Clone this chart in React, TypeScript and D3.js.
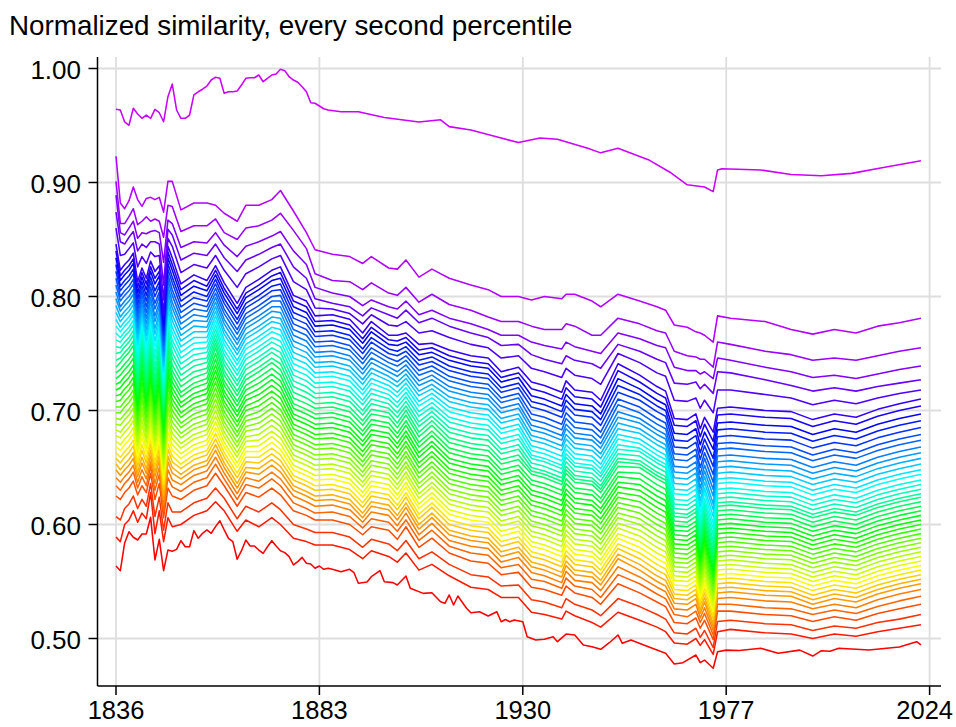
import React from "react";
import * as d3 from "d3";

const TITLE = "Normalized similarity, every second percentile";
const xTickYears = [1836, 1883, 1930, 1977, 2024];
const yTickValues = [0.5, 0.6, 0.7, 0.8, 0.9, 1.0];

// highest plotted percentile (p98)
const topYears = [
  ...d3.range(1836, 1886),
  1888, 1892, 1898, 1902, 1906, 1911, 1913, 1918, 1925, 1929, 1934, 1938, 1945, 1948,
  1952, 1959, 1964, 1968, 1972, 1974, 1975, 1976, 1985, 1992, 1999, 2006, 2013, 2022,
];
const topValues = [
  0.9642, 0.9636, 0.9531, 0.9502, 0.9651, 0.9601, 0.9563, 0.9592, 0.9563, 0.9642,
  0.9612, 0.9533, 0.9753, 0.9864, 0.9636, 0.9563, 0.9563, 0.9592, 0.9768, 0.9796,
  0.9818, 0.9846, 0.9899, 0.9923, 0.9914, 0.9782, 0.9796, 0.9796, 0.9803, 0.9855,
  0.9914, 0.9919, 0.9919, 0.9943, 0.9884, 0.9914, 0.9943, 0.9952, 0.9993, 0.9981,
  0.9928, 0.9899, 0.9879, 0.984, 0.9796, 0.97, 0.9695, 0.9671, 0.9647, 0.9636,
  0.962, 0.962, 0.957, 0.955, 0.953, 0.955, 0.949, 0.946, 0.939, 0.935, 0.939, 0.938, 0.93, 0.926,
  0.93, 0.92, 0.909, 0.898, 0.896, 0.892, 0.911, 0.912, 0.911, 0.907, 0.906, 0.908, 0.913, 0.919,
];

// lowest plotted percentile (p2)
const bottomYears = [
  ...d3.range(1836, 1886),
  1886, 1888, 1890, 1891, 1892, 1894, 1895, 1897, 1898, 1900, 1901, 1903, 1904, 1907, 1909,
  1911, 1912, 1913, 1914, 1915, 1917, 1918, 1920, 1922, 1924, 1925, 1926, 1927, 1928, 1930,
  1931, 1933, 1935, 1937, 1938, 1940, 1942, 1944, 1946, 1948, 1950, 1952, 1953, 1955, 1959,
  1963, 1965, 1967, 1970, 1971, 1972, 1974, 1975, 1977, 1980, 1985, 1989, 1994, 1997, 1999,
  2001, 2003, 2010, 2017, 2021, 2022,
];
const bottomValues = [
  0.5636, 0.5595, 0.5838, 0.5937, 0.5888, 0.5864, 0.5917, 0.5917, 0.6063, 0.5689,
  0.587, 0.5595, 0.5776, 0.5765, 0.5782, 0.5858, 0.5805, 0.5805, 0.5946, 0.5879,
  0.5923, 0.5952, 0.5923, 0.5981, 0.6033, 0.5952, 0.5879, 0.5849, 0.5695, 0.577,
  0.5864, 0.5811, 0.5811, 0.5776, 0.5747, 0.5805, 0.5858, 0.5811, 0.577, 0.5753,
  0.5718, 0.5645, 0.5674, 0.5712, 0.566, 0.5654, 0.5616, 0.5636, 0.5607, 0.5616,
  0.5607, 0.5586, 0.5607, 0.5577, 0.5484, 0.5496, 0.5542, 0.5595, 0.5498, 0.549,
  0.5469, 0.5548, 0.544, 0.5396, 0.5402, 0.5323, 0.5309, 0.5382, 0.5294, 0.5373,
  0.5265, 0.5226, 0.5235, 0.5197, 0.5235, 0.5147, 0.5167, 0.5147, 0.5162, 0.5147,
  0.5016, 0.4987, 0.4993, 0.5016, 0.4972, 0.5039, 0.5031, 0.4943, 0.4928, 0.4905,
  0.4963, 0.5031, 0.4958, 0.4987, 0.4928, 0.487, 0.4776, 0.4788, 0.4855, 0.4788,
  0.4811, 0.4739, 0.4884, 0.4898, 0.4895, 0.4914, 0.487, 0.4898, 0.4846, 0.4893,
  0.4888, 0.4914, 0.49, 0.4925, 0.4972, 0.4944,
];

// percentiles p4 ... p96 (thousandths), one row per year read
const knotYears = [
  1836, 1837, 1838, 1839, 1840, 1841, 1842, 1843, 1844, 1845, 1846, 1847, 1848, 1849,
  1851, 1854, 1857, 1859, 1861, 1864, 1866, 1869, 1872, 1874, 1877, 1880, 1882, 1886,
  1890, 1893, 1895, 1899, 1901, 1903, 1906, 1909, 1913, 1918, 1922, 1925, 1929,
  1932, 1935, 1939, 1940, 1942, 1946, 1948, 1952, 1957, 1961, 1963,
  1965, 1968, 1970, 1971, 1972, 1974, 1975,
  1978, 1986, 1992, 1997, 2002, 2007, 2012, 2017, 2022,
];
const middleRows = [
  [589,607,625,634,641,648,653,658,663,668,673,678,683,688,693,698,703,708,713,718,723,728,733,738,744,750,756,762,768,774,780,786,792,798,804,810,816,822,828,834,840,846,860,874,889,901,923],
  [585,604,622,630,637,643,648,654,659,665,670,676,681,687,692,698,703,709,714,720,725,731,736,742,746,751,755,760,764,769,773,778,782,787,791,796,800,805,809,814,818,823,836,848,856,864,882],
  [600,614,628,636,642,648,653,659,664,670,675,681,686,692,697,703,708,714,719,725,730,736,741,747,751,756,760,765,769,774,778,783,787,792,796,801,805,810,814,819,823,828,837,846,854,864,877],
  [604,618,632,640,646,652,657,663,668,674,679,685,690,696,701,707,712,718,723,729,734,740,745,751,755,760,764,769,773,778,782,787,791,796,800,805,809,814,818,823,827,832,842,852,860,870,884],
  [612,625,638,646,652,658,663,669,674,680,685,691,696,702,707,713,718,724,729,735,740,746,751,757,761,766,770,775,779,784,788,793,797,802,806,811,815,820,824,829,833,838,847,857,866,877,896],
  [602,614,626,632,637,642,646,651,655,660,664,669,673,678,682,687,691,696,700,705,709,714,718,723,728,733,738,743,748,753,758,763,768,773,778,783,788,793,798,803,808,813,826,840,851,863,885],
  [610,622,634,642,648,654,659,665,670,676,681,687,692,698,703,709,714,720,725,731,736,742,747,753,757,761,765,769,773,777,781,785,789,793,797,801,805,809,813,817,821,825,835,846,856,866,879],
  [605,616,628,634,640,645,649,654,658,663,667,672,676,681,685,690,694,699,703,708,712,717,721,726,731,736,741,746,751,756,761,766,771,776,781,786,791,796,801,806,811,816,829,843,855,870,886],
  [628,636,645,651,655,660,665,670,675,680,685,690,695,700,705,710,715,720,725,730,735,740,745,750,754,759,763,768,772,777,781,786,790,795,799,804,808,813,817,822,826,831,839,848,857,866,887],
  [592,607,622,630,636,642,646,651,655,660,664,669,673,678,682,687,691,696,700,705,709,714,718,723,728,734,739,745,750,756,761,767,772,778,783,789,794,800,805,811,816,822,835,848,858,868,885],
  [612,624,636,644,650,656,661,666,671,676,681,686,691,696,701,706,711,716,721,726,731,736,741,746,750,755,759,764,768,773,777,782,786,791,795,800,804,809,813,818,822,827,836,846,856,866,887],
  [585,595,606,612,617,622,626,631,635,640,644,649,653,658,662,667,671,676,680,685,689,694,698,703,707,712,716,721,725,730,734,739,743,748,752,757,761,766,770,775,779,784,797,810,830,852,874],
  [606,619,632,641,648,655,660,666,671,677,682,688,693,699,704,710,715,721,726,732,737,743,748,754,759,764,769,774,779,784,789,794,799,804,809,814,819,824,829,834,839,844,851,859,867,880,901],
  [598,611,625,633,639,645,650,655,660,665,670,675,680,685,690,695,700,705,710,715,720,725,730,735,740,746,751,757,762,768,773,779,784,790,795,801,806,812,817,823,828,834,844,854,864,879,901],
  [600,611,622,629,635,640,644,649,653,658,662,667,671,676,680,685,689,694,698,703,707,712,716,721,726,731,736,741,746,751,756,761,766,771,776,781,786,791,796,801,806,811,821,832,843,857,876],
  [608,619,630,637,643,648,652,657,661,666,670,675,679,684,688,693,697,702,706,711,715,720,724,729,734,739,744,749,754,759,764,769,774,779,784,789,794,799,804,809,814,819,828,838,848,862,882],
  [612,623,634,641,647,652,656,661,665,670,674,679,683,688,692,697,701,706,710,715,719,724,728,733,737,742,746,751,755,760,764,769,773,778,782,787,791,796,800,805,809,814,825,836,847,862,882],
  [620,632,645,653,659,665,670,675,680,685,690,695,700,705,710,715,720,725,730,735,740,745,750,755,759,763,767,771,775,779,783,787,791,795,799,803,807,811,815,819,823,827,836,846,856,868,880],
  [612,623,634,640,645,650,654,659,663,668,672,677,681,686,690,695,699,704,708,713,717,722,726,731,735,740,744,749,753,758,762,767,771,776,780,785,789,794,798,803,807,812,823,834,845,856,873],
  [594,605,616,622,627,632,636,641,645,650,654,659,663,668,672,677,681,686,690,695,699,704,708,713,717,722,726,731,735,740,744,749,753,758,762,767,771,776,780,785,789,794,808,822,835,850,866],
  [604,616,628,635,641,646,650,655,659,664,668,673,677,682,686,691,695,700,704,709,713,718,722,727,731,736,740,745,749,754,758,763,767,772,776,781,785,790,794,799,803,808,820,832,844,860,880],
  [598,611,624,632,638,644,649,654,659,664,669,674,679,684,689,694,699,704,709,714,719,724,729,734,738,743,747,752,756,761,765,770,774,779,783,788,792,797,801,806,810,815,826,837,848,862,880],
  [606,619,632,640,646,652,657,662,667,672,677,682,687,692,697,702,707,712,717,722,727,732,737,742,746,751,755,760,764,769,773,778,782,787,791,796,800,805,809,814,818,823,833,843,853,867,885],
  [600,613,626,634,640,646,651,656,661,666,671,676,681,686,691,696,701,706,711,716,721,726,731,736,741,746,751,756,761,766,771,776,781,786,791,796,801,806,811,816,821,826,836,846,857,873,893],
  [588,600,612,619,625,630,634,639,643,648,652,657,661,666,670,675,679,684,688,693,697,702,706,711,716,721,726,731,736,741,746,751,756,761,766,771,776,781,786,791,796,801,813,826,840,858,875],
  [585,596,608,614,620,625,629,634,638,643,647,652,656,661,665,670,674,679,683,688,692,697,701,706,711,716,721,726,731,736,741,746,751,756,761,766,771,776,781,786,791,796,806,816,828,842,856],
  [582,593,604,610,616,621,625,630,634,639,643,648,652,657,661,666,670,675,679,684,688,693,697,702,706,711,715,720,724,729,733,738,742,747,751,756,760,765,769,774,778,783,790,798,808,820,841],
  [582,593,604,611,617,622,626,631,635,640,644,649,653,658,662,667,671,676,680,685,689,694,698,703,707,712,716,721,725,730,734,739,743,748,752,757,761,766,770,775,779,784,789,794,803,814,837],
  [578,589,600,607,613,618,622,627,631,636,640,645,649,654,658,663,667,672,676,681,685,690,694,699,703,708,712,717,721,726,730,735,739,744,748,753,757,762,766,771,775,780,785,791,800,813,835],
  [570,580,591,597,602,606,610,615,619,624,628,633,637,642,646,651,655,660,664,669,673,678,682,687,691,696,700,705,709,714,718,723,727,732,736,741,745,750,754,759,763,768,776,783,792,806,829],
  [577,587,598,605,611,616,620,625,629,634,638,643,647,652,656,661,665,670,674,679,683,688,692,697,701,706,710,715,719,724,728,733,737,742,746,751,755,760,764,769,773,778,784,790,797,812,835],
  [572,583,595,602,608,613,617,622,626,631,635,640,644,649,653,658,662,667,671,676,680,685,689,694,698,702,706,710,714,718,722,726,730,734,738,742,746,750,754,758,762,766,775,784,791,803,825],
  [567,577,587,594,599,604,608,613,617,622,626,631,635,640,644,649,653,658,662,667,671,676,680,685,689,694,698,703,707,712,716,721,725,730,734,739,743,748,752,757,761,766,774,781,789,801,824],
  [575,586,598,604,610,615,619,624,628,633,637,642,646,651,655,660,664,669,673,678,682,687,691,696,700,704,708,712,716,720,724,728,732,736,740,744,748,752,756,760,764,768,778,788,796,808,832],
  [560,570,580,586,591,596,600,605,609,614,618,623,627,632,636,641,645,650,654,659,663,668,672,677,681,686,690,695,699,704,708,713,717,722,726,731,735,740,744,749,753,758,768,777,784,795,817],
  [565,576,588,595,601,606,610,615,619,624,628,633,637,642,646,651,655,660,664,669,673,678,682,687,691,695,699,703,707,711,715,719,723,727,731,735,739,743,747,751,755,759,770,781,788,802,824],
  [555,565,575,581,586,591,595,600,604,609,613,618,622,627,631,636,640,645,649,654,658,663,667,672,676,681,685,690,694,699,703,708,712,717,721,726,730,735,739,744,748,753,764,774,781,793,816],
  [545,556,568,575,581,586,590,595,599,604,608,613,617,622,626,631,635,640,644,649,653,658,662,667,671,676,680,685,689,694,698,703,707,712,716,721,725,730,734,739,743,748,758,768,776,788,810],
  [543,554,566,573,579,584,588,593,597,602,606,611,615,620,624,629,633,638,642,647,651,656,660,665,669,674,678,683,687,692,696,701,705,710,714,719,723,728,732,737,741,746,755,764,771,782,806],
  [536,546,556,562,567,572,576,581,585,590,594,599,603,608,612,617,621,626,630,635,639,644,648,653,657,662,666,671,675,680,684,689,693,698,702,707,711,716,720,725,729,734,746,757,766,778,800],
  [536,547,558,565,571,576,580,585,589,594,598,603,607,612,616,621,625,630,634,639,643,648,652,657,661,666,670,675,679,684,688,693,697,702,706,711,715,720,724,729,733,738,748,758,766,778,800],
  [523,534,545,552,558,563,567,572,576,581,585,590,594,599,603,608,612,617,621,626,630,635,639,644,647,650,654,658,661,665,669,674,678,683,687,692,697,703,708,713,719,725,737,749,760,774,797],
  [521,532,543,550,555,560,564,569,573,578,582,587,591,596,600,605,609,614,618,623,627,632,636,641,644,647,651,655,658,662,666,671,675,680,684,689,694,700,705,710,716,722,734,745,757,771,800],
  [517,527,538,544,549,554,558,563,567,572,576,581,585,590,594,599,603,608,612,617,621,626,630,635,638,641,645,649,652,656,660,665,669,674,678,683,688,694,699,704,710,716,729,741,754,771,798],
  [524,535,546,553,559,564,568,573,577,582,586,591,595,600,604,609,613,618,622,627,631,636,640,645,648,651,655,659,662,666,670,675,679,684,688,693,698,704,709,714,720,726,737,748,760,776,802],
  [520,530,540,546,551,556,560,565,569,574,578,583,587,592,596,601,605,610,614,619,623,628,632,637,640,643,647,651,654,658,662,667,671,676,680,685,690,696,701,706,712,718,731,744,756,774,802],
  [514,525,536,543,549,554,558,563,567,572,576,581,585,590,594,599,603,608,612,617,621,626,630,635,638,641,645,649,652,656,660,665,669,674,678,683,688,694,699,704,710,716,728,741,752,766,796],
  [510,520,530,536,542,547,551,556,560,565,569,574,578,583,587,592,596,601,605,610,614,619,623,628,631,634,638,642,645,649,653,658,662,667,671,676,681,687,692,697,703,709,723,737,750,766,791],
  [523,535,548,556,563,570,574,579,583,588,592,597,601,606,610,615,619,624,628,633,637,642,646,651,655,658,662,666,670,675,679,684,689,694,699,705,710,716,722,728,735,741,750,758,768,781,802],
  [516,528,540,548,554,560,565,570,575,580,585,590,595,600,605,610,615,620,625,630,635,640,645,650,653,656,660,664,667,671,675,680,684,689,693,698,703,709,714,719,725,731,742,752,763,776,796],
  [510,521,532,539,545,550,555,560,565,570,575,580,585,590,595,600,605,610,615,620,625,630,635,640,643,646,650,654,657,661,665,670,674,679,683,688,693,699,704,709,715,721,733,745,757,770,791],
  [506,517,528,535,541,546,551,556,561,566,571,576,581,586,591,596,601,606,611,616,621,626,631,636,639,642,646,650,653,657,661,666,670,675,679,684,689,695,700,705,711,717,730,742,755,768,788],
  [496,505,514,521,526,531,535,539,543,547,551,555,559,563,567,571,575,579,583,587,591,595,599,603,607,610,614,618,622,627,631,636,641,646,651,657,662,668,674,680,687,693,709,724,738,752,775],
  [495,504,513,519,525,530,534,538,542,546,550,554,558,562,566,570,574,578,582,586,590,594,598,602,606,609,613,617,621,626,630,635,640,645,650,656,661,667,673,679,686,692,708,723,735,748,773],
  [500,509,518,524,530,535,539,543,547,551,555,559,563,567,571,575,579,583,587,591,595,599,603,607,611,614,618,622,626,631,635,640,645,650,655,661,666,672,678,684,691,697,711,725,735,747,769],
  [494,501,509,514,518,522,525,529,532,536,539,543,546,550,553,557,560,564,567,571,574,578,581,585,589,593,597,602,606,611,616,621,627,632,638,644,650,657,663,670,677,684,702,719,732,745,768],
  [499,507,516,522,527,532,536,540,544,548,552,556,560,564,568,572,576,580,584,588,592,596,600,604,608,611,615,619,623,628,632,637,642,647,652,658,663,669,675,681,688,694,709,723,734,745,766],
  [486,492,499,503,507,510,513,517,520,524,527,531,534,538,541,545,548,552,555,559,562,566,569,573,577,582,586,591,596,601,607,613,618,625,631,637,644,651,658,666,673,681,698,715,728,738,760],
  [506,515,524,530,535,540,544,548,552,556,560,564,568,572,576,580,584,588,592,596,600,604,608,612,616,619,623,627,631,636,640,645,650,655,660,666,671,677,683,689,696,702,718,734,746,760,783],
  [508,516,524,530,536,541,545,549,553,557,561,565,569,573,577,581,585,589,593,597,601,605,609,613,617,620,624,628,632,637,641,646,651,656,661,667,672,678,684,690,697,703,718,733,744,758,781],
  [505,513,521,527,533,538,542,546,550,554,558,562,566,570,574,578,582,586,590,594,598,602,606,610,614,617,621,625,629,634,638,643,648,653,658,664,669,675,681,687,694,700,714,727,738,752,778],
  [504,512,520,526,532,537,541,545,549,553,557,561,565,569,573,577,581,585,589,593,597,601,605,609,613,616,620,624,628,633,637,642,647,652,657,663,668,674,680,686,693,699,711,722,734,749,771],
  [500,507,515,521,526,530,534,538,542,546,550,554,558,562,566,570,574,578,582,586,590,594,598,602,606,609,613,617,621,626,630,635,640,645,650,656,661,667,673,679,686,692,705,717,729,744,767],
  [504,511,519,525,530,535,539,543,547,551,555,559,563,567,571,575,579,583,587,591,595,599,603,607,611,614,618,622,626,631,635,640,645,650,655,661,666,672,678,684,691,697,709,720,731,746,771],
  [502,509,516,522,527,532,536,540,544,548,552,556,560,564,568,572,576,580,584,588,592,596,600,604,608,611,615,619,623,628,632,637,642,647,652,658,663,669,675,681,688,694,706,717,728,744,768],
  [506,514,522,528,534,539,543,547,551,555,559,563,567,571,575,579,583,587,591,595,599,603,607,611,615,618,622,626,630,635,639,644,649,654,659,665,670,676,682,688,695,701,711,721,732,748,774],
  [509,517,526,533,539,544,548,552,556,560,564,568,572,576,580,584,588,592,596,600,604,608,612,616,620,623,627,631,635,640,644,649,654,659,664,670,675,681,687,693,700,706,715,724,736,752,777],
  [512,521,530,537,543,548,552,556,560,564,568,572,576,580,584,588,592,596,600,604,608,612,616,620,624,627,631,635,639,644,648,653,658,663,668,674,679,685,691,697,704,710,718,727,739,755,781],
];

const FONT = "'Liberation Sans', Arial, Helvetica, sans-serif";

export default function App() {
  const x = d3.scaleLinear().domain([1836, 2024]).range([116, 929.6]);
  const y = d3.scaleLinear().domain([0.5, 1.0]).range([638.5, 68.5]);
  const plotLeft = 97.5;
  const plotRight = 941;
  const plotTop = 57;
  const plotBottom = 686;

  const series = [];
  series.push(bottomYears.map((yr, i) => [yr, bottomValues[i]]));
  for (let k = 0; k < 47; k++) {
    series.push(
      knotYears
        .map((yr, j) => [yr, middleRows[j] && middleRows[j][k] != null ? middleRows[j][k] / 1000 : NaN])
        .filter((d) => !isNaN(d[1]))
    );
  }
  series.push(topYears.map((yr, i) => [yr, topValues[i]]));

  const line = d3
    .line()
    .x((d) => x(d[0]))
    .y((d) => y(d[1]));

  const color = (i) => d3.hsl(i * 6, 1, 0.5).formatHex();
  const fmt = d3.format(".2f");
  const lastTick = xTickYears[xTickYears.length - 1];

  return (
    <svg
      width={956}
      height={727}
      style={{ position: "absolute", left: 0, top: 0, background: "#fff" }}
      fontFamily={FONT}
    >
      <rect x={0} y={0} width={956} height={727} fill="#ffffff" />
      {yTickValues.map((v) => (
        <line key={"gy" + v} x1={plotLeft} x2={plotRight} y1={y(v)} y2={y(v)} stroke="#dedede" strokeWidth={1.8} />
      ))}
      {xTickYears.map((yr) => (
        <line key={"gx" + yr} x1={x(yr)} x2={x(yr)} y1={plotTop} y2={plotBottom} stroke="#dedede" strokeWidth={1.8} />
      ))}
      <g fill="none" strokeWidth={1.55} strokeLinejoin="round">
        {series.map((s, i) => (
          <path key={"s" + i} d={line(s)} stroke={color(i)} />
        ))}
      </g>
      <line x1={plotLeft} x2={plotLeft} y1={plotTop} y2={plotBottom} stroke="#000" strokeWidth={1.5} />
      <line x1={plotLeft} x2={plotRight} y1={plotBottom} y2={plotBottom} stroke="#000" strokeWidth={1.5} />
      {yTickValues.map((v) => (
        <g key={"ty" + v}>
          <line x1={plotLeft - 9} x2={plotLeft} y1={y(v)} y2={y(v)} stroke="#000" strokeWidth={1.5} />
          <text x={81} y={y(v) + 10} textAnchor="end" fontSize={26} fill="#000">
            {fmt(v)}
          </text>
        </g>
      ))}
      {xTickYears.map((yr) => (
        <g key={"tx" + yr}>
          <line x1={x(yr)} x2={x(yr)} y1={plotBottom} y2={plotBottom + 9} stroke="#000" strokeWidth={1.5} />
          <text
            x={yr === lastTick ? 953 : x(yr)}
            y={719}
            textAnchor={yr === lastTick ? "end" : "middle"}
            fontSize={25.5}
            fill="#000"
          >
            {yr}
          </text>
        </g>
      ))}
      <text x={9} y={35} fontSize={27.8} fill="#000">
        {TITLE}
      </text>
    </svg>
  );
}
